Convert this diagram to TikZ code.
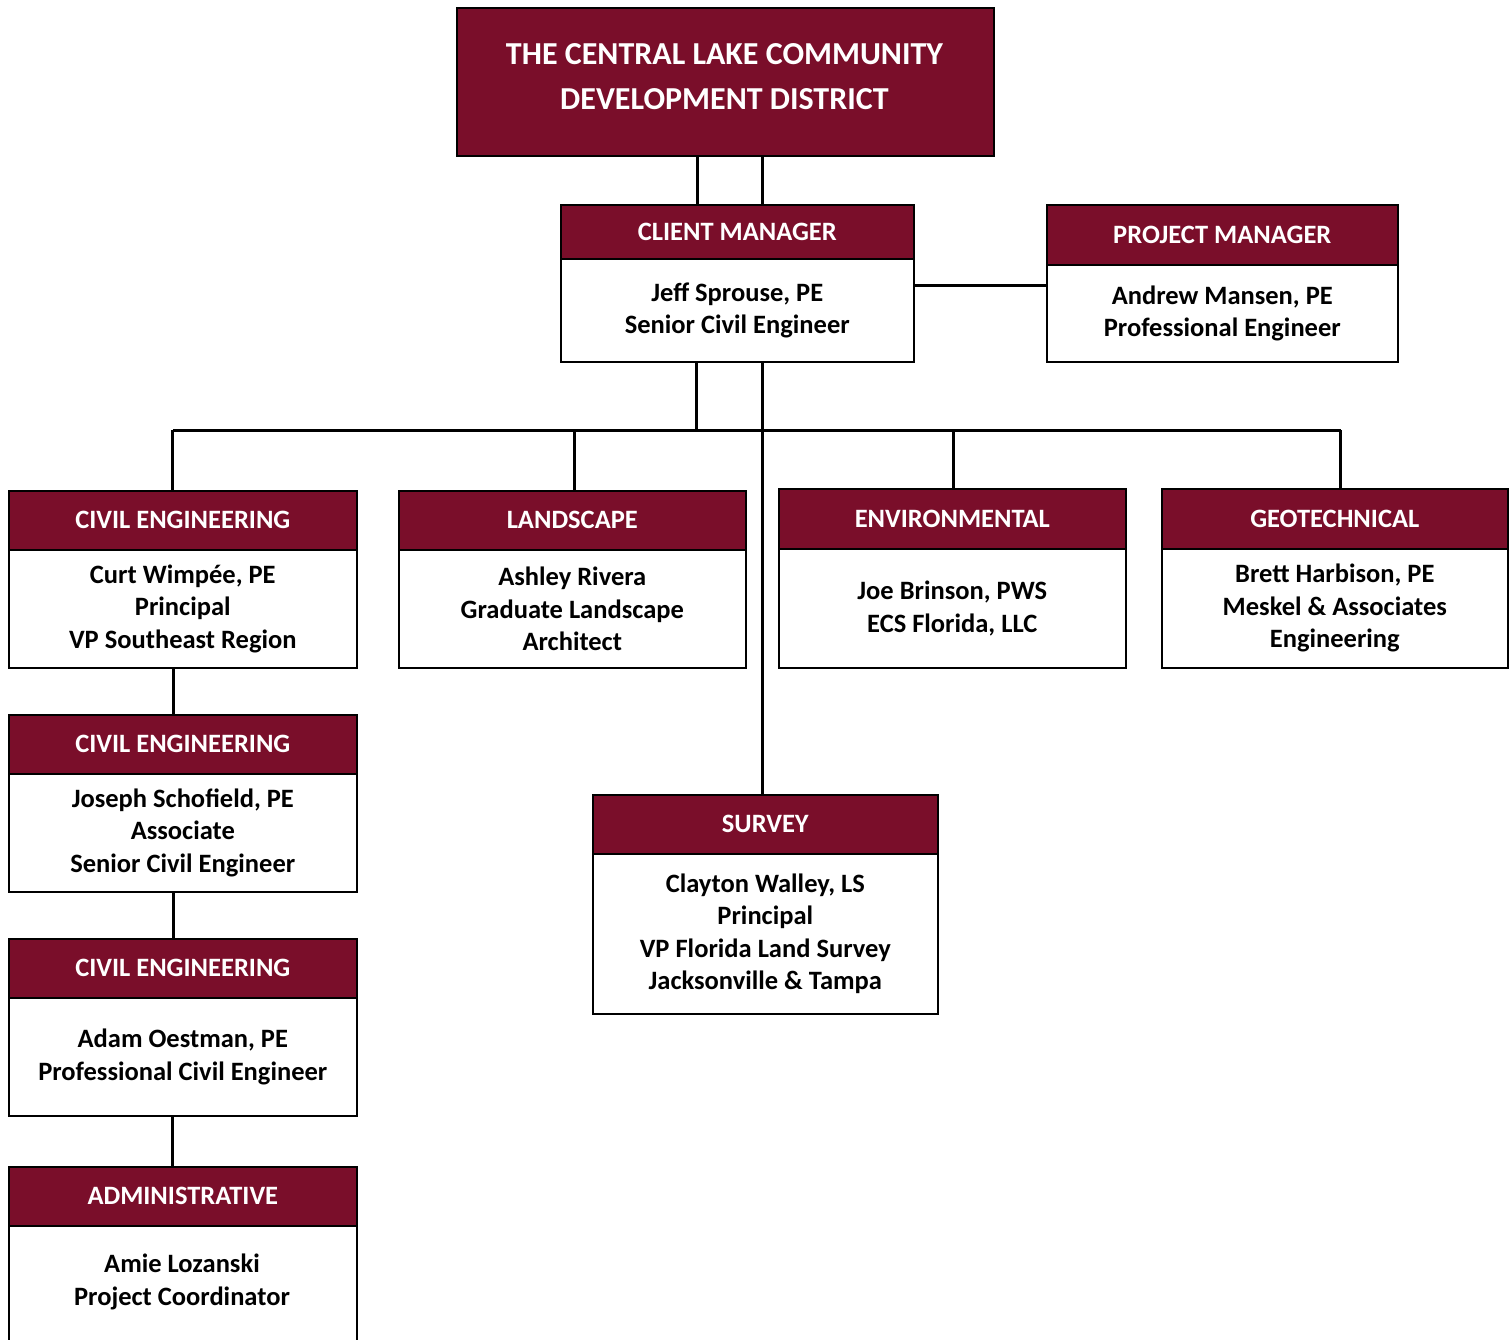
\documentclass[tikz,border=0pt]{standalone}
\usepackage{fontspec}
\setmainfont{Carlito}
\definecolor{maroon}{RGB}{122,14,42}
\begin{document}
\begin{tikzpicture}[x=1pt,y=-1pt,
  hdr/.style={rectangle, fill=maroon, draw=black, line width=1.6pt, anchor=north west, inner sep=0pt,
    text=white, font=\fontsize{26.5}{30}\selectfont\bfseries},
  bodybox/.style={rectangle, fill=white, draw=black, line width=1.6pt, anchor=north west, inner sep=0pt,
    align=center, font=\fontsize{26.5}{32.5}\selectfont\bfseries},
  conn/.style={draw=black, line width=3pt}]
\useasboundingbox (0,0) rectangle (1512,1340);

% top
\node[hdr, minimum width=537pt, minimum height=148pt] (top) at (456,7) {};
\node[align=center, text=white, font=\fontsize{32}{45}\selectfont\bfseries] (toptext) at (724.5,76.5)
  {THE CENTRAL LAKE COMMUNITY\\DEVELOPMENT DISTRICT};

% client manager
\node[hdr, minimum width=353pt, minimum height=54pt] (cmh) at (560,204) {CLIENT MANAGER};
\node[bodybox, minimum width=353pt, minimum height=103pt] (cmb) at (560,258) {Jeff Sprouse, PE\\Senior Civil Engineer};

% project manager
\node[hdr, minimum width=351pt, minimum height=60pt] (pmh) at (1046,204) {PROJECT MANAGER};
\node[bodybox, minimum width=351pt, minimum height=97pt] (pmb) at (1046,264) {Andrew Mansen, PE\\Professional Engineer};

% civil engineering 1
\node[hdr, minimum width=348pt, minimum height=59pt] (ce1h) at (8,490) {CIVIL ENGINEERING};
\node[bodybox, minimum width=348pt, minimum height=118pt] (ce1b) at (8,549) {Curt Wimpée, PE\\Principal\\VP Southeast Region};

% landscape
\node[hdr, minimum width=347pt, minimum height=59pt] (lah) at (398,490) {LANDSCAPE};
\node[bodybox, minimum width=347pt, minimum height=118pt] (lab) at (398,549) {Ashley Rivera\\Graduate Landscape\\Architect};

% environmental
\node[hdr, minimum width=347pt, minimum height=60pt] (enh) at (778,488) {ENVIRONMENTAL};
\node[bodybox, minimum width=347pt, minimum height=119pt] (enb) at (778,548) {Joe Brinson, PWS\\ECS Florida, LLC};

% geotechnical
\node[hdr, minimum width=346pt, minimum height=60pt] (geh) at (1161,488) {GEOTECHNICAL};
\node[bodybox, minimum width=346pt, minimum height=119pt] (geb) at (1161,548) {Brett Harbison, PE\\Meskel \& Associates\\Engineering};

% civil engineering 2
\node[hdr, minimum width=348pt, minimum height=59pt] (ce2h) at (8,714) {CIVIL ENGINEERING};
\node[bodybox, minimum width=348pt, minimum height=118pt] (ce2b) at (8,773) {Joseph Schofield, PE\\Associate\\Senior Civil Engineer};

% civil engineering 3
\node[hdr, minimum width=348pt, minimum height=59pt] (ce3h) at (8,938) {CIVIL ENGINEERING};
\node[bodybox, minimum width=348pt, minimum height=118pt] (ce3b) at (8,997) {Adam Oestman, PE\\Professional Civil Engineer};

% administrative
\node[hdr, minimum width=348pt, minimum height=59pt] (adh) at (8,1166) {ADMINISTRATIVE};
\node[bodybox, minimum width=348pt, minimum height=150pt, text depth=0pt] (adb) at (8,1225) {};
\node[font=\fontsize{26.5}{32.5}\selectfont\bfseries, align=center] (adt) at (182,1282) {Amie Lozanski\\Project Coordinator};

% survey
\node[hdr, minimum width=345pt, minimum height=59pt] (suh) at (592,794) {SURVEY};
\node[bodybox, minimum width=345pt, minimum height=160pt] (sub) at (592,853) {Clayton Walley, LS\\Principal\\VP Florida Land Survey\\Jacksonville \& Tampa};

% connectors
\coordinate (bus) at (696,430);
\draw[conn] ([xshift=-27.5pt]top.south) -- ([xshift=-27.5pt]top.south |- cmh.north);
\draw[conn] ([xshift=37.5pt]top.south) -- ([xshift=37.5pt]top.south |- cmh.north);
\draw[conn] (cmb.east |- 0,286) -- (pmb.west |- 0,286);
\draw[conn] ([xshift=-40.5pt]cmb.south) -- ([xshift=-40.5pt]cmb.south |- bus);
\draw[conn] ([xshift=25.5pt]cmb.south) -- ([xshift=25.5pt]cmb.south |- suh.north);
\draw[conn] ([xshift=-10pt]ce1h.north |- bus) -- ([xshift=6pt]geh.north |- bus);
\draw[conn] ([xshift=-10pt]ce1h.north |- bus) -- ([xshift=-10pt]ce1h.north);
\draw[conn] ([xshift=2.5pt]lah.north |- bus) -- ([xshift=2.5pt]lah.north);
\draw[conn] ([xshift=1.5pt]enh.north |- bus) -- ([xshift=1.5pt]enh.north);
\draw[conn] ([xshift=6pt]geh.north |- bus) -- ([xshift=6pt]geh.north);
\draw[conn] ([xshift=-9pt]ce1b.south) -- ([xshift=-9pt]ce2h.north);
\draw[conn] ([xshift=-9pt]ce2b.south) -- ([xshift=-9pt]ce3h.north);
\draw[conn] ([xshift=-10pt]ce3b.south) -- ([xshift=-10pt]adh.north);
\end{tikzpicture}
\end{document}
